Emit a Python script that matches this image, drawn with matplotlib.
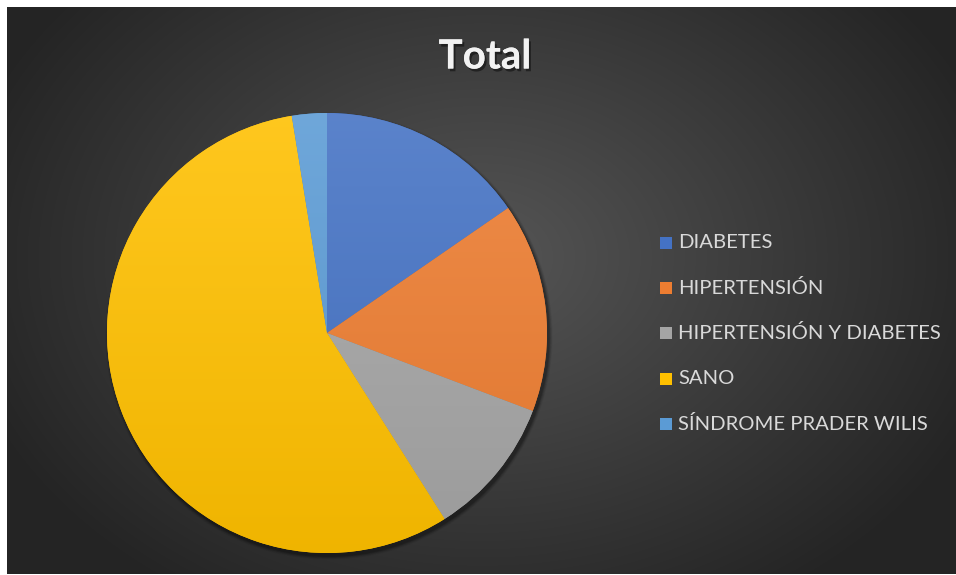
import numpy as np
import matplotlib
matplotlib.use("Agg")
import matplotlib.pyplot as plt
import matplotlib.patheffects as pe
from matplotlib.colors import to_rgb
from matplotlib.patches import Circle, Rectangle

categories = [
    "DIABETES",
    "HIPERTENSIÓN",
    "HIPERTENSIÓN Y DIABETES",
    "SANO",
    "SÍNDROME PRADER WILIS",
]
counts = [6, 6, 4, 22, 1]
colors = ["#4472C4", "#ED7D31", "#A5A5A5", "#FFC000", "#5B9BD5"]
title = "Total"

W, H = 956, 575
plt.rcParams["font.family"] = ["Lato", "DejaVu Sans"]

fig = plt.figure(figsize=(W / 100, H / 100), dpi=100, facecolor="white")

# dark chart area with a soft radial glow
bg = fig.add_axes([7 / W, 1 / H, 949 / W, 567 / H])
bg.set_axis_off()
yy, xx = np.mgrid[0:567, 0:949]
r = np.hypot((xx - 475) / 560, (yy - 250) / 420)
shade = np.clip(0.335 - 0.2 * r, 0.145, 0.34)
bg.imshow(np.dstack([shade] * 3), aspect="auto", interpolation="bilinear")

ax = fig.add_axes([0, 0, 1, 1])
ax.set_axis_off()
ax.patch.set_visible(False)

cx, cy, rad = 327, H - 333, 220

# drop shadow under the pie
for k, a in zip(range(6, 0, -1), [0.04, 0.05, 0.06, 0.08, 0.10, 0.12]):
    ax.add_patch(Circle((cx + 2, cy - 3), rad + k * 0.6, color="black",
                        alpha=a, lw=0, zorder=1))

wedges, _ = ax.pie(counts, colors=colors, startangle=90, counterclock=False,
                   center=(cx, cy), radius=rad, frame=True,
                   wedgeprops=dict(linewidth=0))


def shaded(c, top=0.12, bottom=0.06):
    rgb = np.array(to_rgb(c))
    hi = rgb + (1 - rgb) * top
    lo = rgb * (1 - bottom)
    t = np.linspace(0, 1, 256)[:, None]
    col = hi * (1 - t) + lo * t
    return col.reshape(256, 1, 3)


# vertical gradient inside each slice
for w, c in zip(wedges, colors):
    w.set_zorder(2)
    img = ax.imshow(shaded(c), extent=(cx - rad, cx + rad, cy - rad, cy + rad),
                    aspect="auto", interpolation="bilinear", zorder=3)
    img.set_clip_path(w)

ax.set_xlim(0, W)
ax.set_ylim(0, H)
ax.set_aspect("auto")

ax.text(485, H - 57, title, ha="center", va="center", fontsize=29,
        fontweight="bold", color="#f2f2f2",
        path_effects=[pe.withSimplePatchShadow(offset=(1.5, -2),
                                               shadow_rgbFace="black",
                                               alpha=0.45),
                      pe.Normal()])

# legend
for i, (name, c) in enumerate(zip(categories, colors)):
    y = H - (243 + i * 45.2)
    ax.add_patch(Rectangle((660, y - 6), 12, 12, color=c, lw=0, zorder=4))
    ax.text(678, y, name, ha="left", va="center", fontsize=14.6,
            color="#d9d9d9", zorder=4)

fig.savefig("out.png", dpi=100, facecolor="white")
